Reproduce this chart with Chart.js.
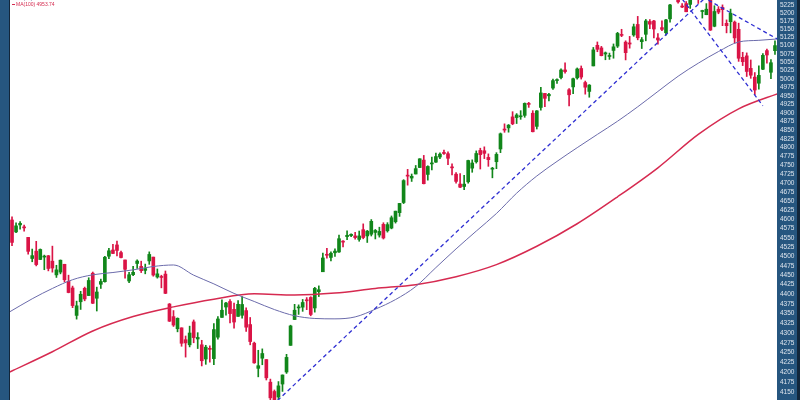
<!DOCTYPE html>
<html>
<head>
<meta charset="utf-8">
<title>S&amp;P 500 daily candles</title>
<script src="https://cdn.jsdelivr.net/npm/chart.js@4.4.1/dist/chart.umd.min.js"></script>
<style>
    html, body { margin: 0; padding: 0; background: #fff; overflow: hidden; }
    #chart { display: block; }
</style>
</head>
<body>
<canvas id="chart" width="800" height="400"></canvas>
<script>
/* ===================================================== */
/* DATA                                                    */
/* ===================================================== */

const dates = [
    '2023-07-27','2023-07-28','2023-07-31',
    '2023-08-01','2023-08-02','2023-08-03','2023-08-04','2023-08-07','2023-08-08','2023-08-09','2023-08-10','2023-08-11','2023-08-14','2023-08-15','2023-08-16','2023-08-17','2023-08-18','2023-08-21','2023-08-22','2023-08-23','2023-08-24','2023-08-25','2023-08-28','2023-08-29','2023-08-30','2023-08-31',
    '2023-09-01','2023-09-05','2023-09-06','2023-09-07','2023-09-08','2023-09-11','2023-09-12','2023-09-13','2023-09-14','2023-09-15','2023-09-18','2023-09-19','2023-09-20','2023-09-21','2023-09-22','2023-09-25','2023-09-26','2023-09-27','2023-09-28','2023-09-29',
    '2023-10-02','2023-10-03','2023-10-04','2023-10-05','2023-10-06','2023-10-09','2023-10-10','2023-10-11','2023-10-12','2023-10-13','2023-10-16','2023-10-17','2023-10-18','2023-10-19','2023-10-20','2023-10-23','2023-10-24','2023-10-25','2023-10-26','2023-10-27','2023-10-30','2023-10-31',
    '2023-11-01','2023-11-02','2023-11-03','2023-11-06','2023-11-07','2023-11-08','2023-11-09','2023-11-10','2023-11-13','2023-11-14','2023-11-15','2023-11-16','2023-11-17','2023-11-20','2023-11-21','2023-11-22','2023-11-24','2023-11-27','2023-11-28','2023-11-29','2023-11-30',
    '2023-12-01','2023-12-04','2023-12-05','2023-12-06','2023-12-07','2023-12-08','2023-12-11','2023-12-12','2023-12-13','2023-12-14','2023-12-15','2023-12-18','2023-12-19','2023-12-20','2023-12-21','2023-12-22','2023-12-26','2023-12-27','2023-12-28','2023-12-29',
    '2024-01-02','2024-01-03','2024-01-04','2024-01-05','2024-01-08','2024-01-09','2024-01-10','2024-01-11','2024-01-12','2024-01-16','2024-01-17','2024-01-18','2024-01-19','2024-01-22','2024-01-23','2024-01-24','2024-01-25','2024-01-26','2024-01-29','2024-01-30','2024-01-31',
    '2024-02-01','2024-02-02','2024-02-05','2024-02-06','2024-02-07','2024-02-08','2024-02-09','2024-02-12','2024-02-13','2024-02-14','2024-02-15','2024-02-16','2024-02-20','2024-02-21','2024-02-22','2024-02-23','2024-02-26','2024-02-27','2024-02-28','2024-02-29',
    '2024-03-01','2024-03-04','2024-03-05','2024-03-06','2024-03-07','2024-03-08','2024-03-11','2024-03-12','2024-03-13','2024-03-14','2024-03-15','2024-03-18','2024-03-19','2024-03-20','2024-03-21','2024-03-22','2024-03-25','2024-03-26','2024-03-27','2024-03-28',
    '2024-04-01','2024-04-02','2024-04-03','2024-04-04','2024-04-05','2024-04-08','2024-04-09','2024-04-10','2024-04-11','2024-04-12','2024-04-15','2024-04-16','2024-04-17','2024-04-18','2024-04-19','2024-04-22','2024-04-23','2024-04-24','2024-04-25','2024-04-26'
];

const open = [
    4598.26,4565.75,4584.82,
    4578.83,4550.93,4494.27,4513.96,4491.58,4498.03,4501.57,4487.16,4450.69,4458.13,4478.87,4433.79,4416.32,4344.88,4380.28,4415.33,4396.44,4455.16,4389.38,4426.03,4432.75,4500.34,4517.01,
    4530.60,4510.06,4490.35,4434.55,4451.30,4480.98,4473.27,4462.65,4487.78,4497.98,4445.13,4445.41,4452.81,4374.36,4341.74,4310.62,4312.88,4282.63,4269.65,4328.18,
    4284.52,4269.75,4233.83,4259.31,4234.79,4289.02,4339.75,4366.59,4380.94,4360.49,4342.37,4345.23,4357.35,4321.36,4273.85,4210.40,4235.79,4232.42,4175.99,4152.94,4139.39,4171.33,
    4201.27,4268.26,4334.23,4364.27,4366.21,4384.37,4391.41,4364.15,4406.66,4458.97,4505.30,4497.08,4509.55,4511.70,4538.77,4553.04,4555.84,4554.86,4545.55,4571.84,4554.87,
    4559.43,4564.37,4557.25,4586.23,4568.84,4576.20,4593.39,4618.30,4646.20,4721.04,4714.23,4725.58,4743.72,4764.73,4724.29,4753.92,4758.86,4773.45,4786.44,4782.88,
    4745.20,4725.07,4697.42,4690.57,4703.70,4741.93,4759.94,4792.13,4791.18,4772.35,4739.13,4760.10,4796.28,4853.42,4856.80,4888.56,4886.66,4888.91,4892.95,4925.89,4899.19,
    4861.11,4916.06,4957.19,4950.16,4973.05,4995.16,5004.17,5026.83,4967.94,4976.44,5003.14,5031.13,4989.32,4963.03,5038.83,5100.92,5093.00,5074.60,5067.20,5085.36,
    5098.51,5130.99,5110.52,5108.03,5132.38,5164.46,5111.96,5134.30,5173.49,5175.14,5123.31,5154.77,5139.09,5181.69,5253.43,5242.48,5219.52,5228.85,5226.31,5248.03,
    5257.97,5204.29,5194.37,5244.05,5158.95,5211.37,5217.03,5167.88,5172.95,5171.51,5149.67,5064.59,5068.97,5031.52,5005.44,4987.33,5028.85,5084.86,5019.88,5084.65
];

const high = [
    4607.07,4590.16,4594.22,
    4584.62,4550.93,4519.49,4540.34,4519.84,4503.31,4502.44,4527.37,4476.23,4490.33,4478.87,4449.95,4421.17,4381.82,4407.55,4418.59,4443.18,4458.30,4418.46,4439.56,4500.14,4521.65,4532.26,
    4541.25,4514.29,4490.35,4457.81,4473.53,4490.77,4487.11,4479.39,4511.99,4497.98,4466.36,4449.85,4461.03,4375.70,4357.40,4338.51,4313.01,4292.07,4317.27,4333.15,
    4300.58,4281.15,4268.50,4267.13,4324.10,4341.73,4385.46,4378.64,4385.85,4377.10,4383.33,4393.57,4364.20,4339.54,4276.56,4255.84,4259.38,4232.42,4183.60,4156.70,4177.47,4194.03,
    4245.64,4319.72,4373.62,4372.21,4386.26,4391.20,4393.40,4418.03,4421.76,4508.67,4521.17,4511.99,4520.12,4557.11,4542.14,4568.43,4560.31,4564.37,4568.14,4587.64,4569.89,
    4599.39,4572.37,4578.56,4590.74,4590.92,4609.23,4622.44,4643.93,4709.69,4738.57,4725.53,4749.52,4768.69,4778.01,4748.71,4772.94,4784.72,4785.39,4793.30,4788.43,
    4754.33,4729.29,4726.78,4721.49,4764.54,4765.47,4790.80,4798.50,4802.40,4782.34,4744.23,4785.79,4842.07,4868.41,4866.48,4903.68,4898.15,4906.69,4929.31,4931.09,4906.75,
    4906.97,4975.29,4957.19,4957.77,4999.89,5000.40,5030.06,5048.39,4971.30,5002.52,5032.72,5038.70,4993.71,4983.21,5094.39,5111.06,5097.66,5080.69,5077.37,5104.99,
    5140.33,5149.67,5114.54,5127.97,5165.62,5189.26,5124.66,5179.87,5179.14,5176.85,5136.86,5175.60,5180.31,5226.19,5261.10,5246.09,5229.09,5235.16,5249.26,5264.85,
    5263.95,5208.34,5228.75,5256.59,5222.18,5219.57,5224.81,5178.43,5211.78,5175.03,5168.43,5079.84,5077.96,5056.66,5019.02,5038.84,5076.12,5089.48,5057.75,5114.62
];

const low = [
    4528.56,4564.01,4573.14,
    4567.53,4505.75,4485.54,4474.55,4491.15,4464.39,4461.33,4457.92,4443.98,4453.44,4432.19,4403.55,4364.83,4335.31,4360.30,4382.77,4396.44,4375.55,4356.29,4414.98,4431.68,4493.59,4507.39,
    4501.35,4496.01,4442.38,4430.46,4448.38,4467.89,4456.83,4453.52,4478.69,4447.21,4442.11,4416.61,4401.38,4329.17,4316.49,4302.70,4265.98,4238.63,4264.38,4274.86,
    4260.21,4216.45,4220.48,4225.91,4219.55,4283.79,4339.64,4345.34,4325.43,4311.97,4342.37,4337.54,4303.84,4269.69,4223.03,4189.22,4219.43,4181.42,4127.90,4103.78,4132.94,4153.12,
    4197.74,4268.26,4334.23,4347.53,4355.41,4359.76,4343.94,4353.34,4393.82,4458.97,4495.31,4487.83,4499.66,4510.36,4525.51,4545.05,4552.80,4545.90,4540.51,4547.15,4537.24,
    4554.71,4546.72,4551.68,4546.50,4565.22,4574.06,4589.74,4608.09,4643.23,4694.34,4704.69,4725.58,4743.72,4697.82,4708.35,4736.77,4758.45,4768.90,4780.98,4751.99,
    4722.67,4699.71,4687.53,4682.11,4699.82,4730.35,4756.20,4739.58,4768.98,4747.12,4714.82,4740.57,4785.87,4844.05,4844.37,4865.94,4869.34,4881.47,4887.40,4916.27,4845.15,
    4853.52,4907.99,4918.09,4934.88,4969.05,4987.09,5000.34,5016.83,4920.31,4956.45,4999.44,4999.52,4955.02,4946.00,5038.83,5081.46,5068.91,5057.29,5058.35,5061.89,
    5094.16,5127.18,5056.82,5092.22,5128.21,5117.50,5091.14,5114.48,5151.88,5123.30,5104.35,5145.47,5131.59,5171.55,5240.66,5229.87,5216.09,5203.42,5213.92,5245.82,
    5229.20,5184.05,5194.37,5146.06,5157.21,5197.35,5160.78,5138.70,5138.77,5107.94,5052.47,5039.83,5007.25,5001.89,4953.56,4969.40,5027.96,5047.02,5001.01,5073.14
];

const close = [
    4537.41,4582.23,4588.96,
    4576.73,4513.39,4501.89,4478.03,4518.44,4499.38,4467.71,4468.83,4464.05,4489.72,4437.86,4404.33,4370.36,4369.71,4399.77,4387.55,4436.01,4376.31,4405.71,4433.31,4497.63,4514.87,4507.66,
    4515.77,4496.83,4465.48,4451.14,4457.49,4487.46,4461.90,4467.44,4505.10,4450.32,4453.53,4443.95,4402.20,4330.00,4320.06,4337.44,4273.53,4274.51,4299.70,4288.05,
    4288.39,4229.45,4263.75,4258.19,4308.50,4335.66,4358.24,4376.95,4349.61,4327.78,4373.63,4373.20,4314.60,4278.00,4224.16,4217.04,4247.68,4186.77,4137.23,4117.37,4166.82,4193.80,
    4237.86,4317.78,4358.34,4365.98,4378.38,4382.78,4347.35,4415.24,4411.55,4495.70,4502.88,4508.24,4514.02,4547.38,4538.19,4556.62,4559.34,4550.43,4554.89,4550.58,4567.80,
    4594.63,4569.78,4567.18,4549.34,4585.59,4604.37,4622.44,4643.70,4707.09,4719.55,4719.19,4740.56,4768.37,4698.35,4746.75,4754.63,4774.75,4781.58,4783.35,4769.83,
    4742.83,4704.81,4688.68,4697.24,4763.54,4756.50,4783.45,4780.24,4783.83,4765.98,4739.21,4780.94,4839.81,4850.43,4864.60,4868.55,4894.16,4890.97,4927.93,4924.97,4845.65,
    4906.19,4958.61,4942.81,4954.23,4995.06,4997.91,5026.61,5021.84,4953.17,5000.62,5029.73,5005.57,4975.51,4981.80,5087.03,5088.80,5069.53,5078.18,5069.76,5096.27,
    5137.08,5130.95,5078.65,5104.76,5157.36,5123.69,5117.94,5175.27,5165.31,5150.48,5117.09,5149.42,5178.51,5224.62,5241.53,5234.18,5218.19,5203.58,5248.49,5254.35,
    5243.77,5205.81,5211.49,5147.21,5204.34,5202.39,5209.91,5160.64,5199.06,5123.41,5061.82,5051.41,5022.21,5011.12,4967.23,5010.60,5070.55,5071.63,5048.42,5099.96
];

// moving averages, by candle index
const ma50Idx = [-0.6, 5, 10, 15, 20, 25, 30, 35, 40, 45, 50, 55, 60, 65, 70, 75, 80, 85, 90, 95, 100, 105, 110, 115, 120, 125, 130, 135, 140, 145, 150, 155, 160, 165, 170, 175, 180, 185, 190.5];
const ma50 = [4354, 4388, 4415, 4438, 4451, 4457, 4464, 4473, 4477, 4450, 4427, 4402, 4381, 4360, 4344, 4337, 4336, 4341, 4361, 4386, 4420, 4470, 4520, 4568, 4616, 4672, 4720, 4761, 4800, 4838, 4876, 4918, 4963, 5008, 5047, 5082, 5111, 5116, 5121];

const ma100Idx = [-0.6, 10, 20, 30, 40, 50, 60, 70, 80, 90, 100, 110, 120, 130, 140, 150, 160, 170, 180, 190.5];
const ma100 = [4201, 4252, 4305, 4342, 4367, 4387, 4401, 4398, 4403, 4415, 4425, 4446, 4478, 4527, 4588, 4662, 4743, 4838, 4912, 4960];

// dashed trend lines (candle index, price)
const trendUp = [{ x: 64.5, y: 4119 }, { x: 173, y: 5262 }];
const trendDown = [{ x: 165, y: 5260 }, { x: 186, y: 4921 }];
const trendTop = [{ x: 171, y: 5250 }, { x: 190, y: 5117 }];

const priceTicks = [
    4150, 4175, 4200, 4225, 4250, 4275, 4300, 4325, 4350, 4375, 4400, 4425, 4450, 4475,
    4500, 4525, 4550, 4575, 4600, 4625, 4650, 4675, 4700, 4725, 4750, 4775, 4800, 4825,
    4850, 4875, 4900, 4925, 4950, 4975, 5000, 5025, 5050, 5075, 5100, 5125, 5150, 5175,
    5200, 5225
];

const Y_MIN = 4132;
const Y_MAX = 5240;

/* ===================================================== */
/* HELPERS                                                 */
/* ===================================================== */

const UP = '#11861a';
const DOWN = '#da1446';
const PANEL = '#26567f';

function candleColors() {
    return close.map((c, i) => (c >= open[i] ? UP : DOWN));
}

const panels = {
    id: 'panels',
    beforeDraw(chart) {
        const { ctx, width, height } = chart;
        const area = chart.chartArea;
        ctx.save();
        ctx.fillStyle = PANEL;
        ctx.fillRect(0, 0, area.left, height);
        ctx.fillRect(area.right, 0, width - area.right, height);
        ctx.fillStyle = '#12263a';
        ctx.fillRect(area.left - 1, 0, 1, height);
        ctx.fillRect(width - 3, 0, 3, height);
        ctx.restore();
    }
};

const maLegend = {
    id: 'maLegend',
    afterDraw(chart) {
        const ctx = chart.ctx;
        const x = chart.chartArea.left;
        ctx.save();
        ctx.font = '5px "Liberation Sans", Arial, sans-serif';
        ctx.textBaseline = 'middle';
        ctx.fillStyle = '#7474a8';
        ctx.fillText('MA(50) 5120.43', x + 6, -1.5);
        ctx.fillStyle = '#d42a4e';
        ctx.fillRect(x + 2, 4, 3, 1);
        ctx.fillText('MA(100) 4953.74', x + 6, 4.8);
        ctx.restore();
    }
};

/* ===================================================== */
/* CHART                                                   */
/* ===================================================== */

const colors = candleColors();

new Chart(document.getElementById('chart'), {
    type: 'bar',
    data: {
        labels: dates,
        datasets: [
            {
                label: 'wick',
                data: low.map((l, i) => [l, high[i]]),
                backgroundColor: colors,
                barThickness: 1,
                grouped: false,
                order: 3
            },
            {
                label: 'body',
                data: open.map((o, i) => [o, close[i]]),
                backgroundColor: colors,
                barThickness: 3,
                minBarLength: 1,
                grouped: false,
                order: 2
            },
            {
                type: 'line',
                label: 'MA(50)',
                xAxisID: 'xl',
                data: ma50Idx.map((x, k) => ({ x: x, y: ma50[k] })),
                borderColor: '#6b6bab',
                borderWidth: 1,
                pointRadius: 0,
                cubicInterpolationMode: 'monotone',
                order: 1
            },
            {
                type: 'line',
                label: 'MA(100)',
                xAxisID: 'xl',
                data: ma100Idx.map((x, k) => ({ x: x, y: ma100[k] })),
                borderColor: '#d62a50',
                borderWidth: 1.5,
                pointRadius: 0,
                cubicInterpolationMode: 'monotone',
                order: 1
            },
            ...[trendUp, trendDown, trendTop].map(points => ({
                type: 'line',
                label: 'trend',
                xAxisID: 'xl',
                data: points,
                borderColor: '#2f2fd2',
                borderWidth: 1.3,
                borderDash: [4, 3],
                pointRadius: 0,
                order: 0
            }))
        ]
    },
    options: {
        responsive: false,
        animation: false,
        layout: { padding: { left: 10, top: 0, bottom: 0, right: 0 } },
        plugins: {
            legend: { display: false },
            tooltip: { enabled: false }
        },
        scales: {
            x: {
                type: 'category',
                display: false,
                offset: true
            },
            xl: {
                type: 'linear',
                display: false,
                offset: false,
                bounds: 'data',
                grace: 0,
                min: -0.5,
                max: dates.length - 0.5
            },
            y: {
                type: 'logarithmic',
                position: 'right',
                min: Y_MIN,
                max: Y_MAX,
                grid: { display: false, drawTicks: false },
                border: { display: false },
                afterBuildTicks: scale => {
                    scale.ticks = priceTicks.map(v => ({ value: v }));
                },
                afterFit: scale => {
                    scale.width = 23;
                    scale.paddingTop = 0;
                    scale.paddingBottom = 0;
                },
                ticks: {
                    autoSkip: false,
                    padding: 3,
                    color: '#dfe6ee',
                    font: { family: '"Liberation Sans", Arial, sans-serif', size: 6.5 },
                    callback: value => String(value)
                }
            }
        }
    },
    plugins: [panels, maLegend]
});
</script>
</body>
</html>
